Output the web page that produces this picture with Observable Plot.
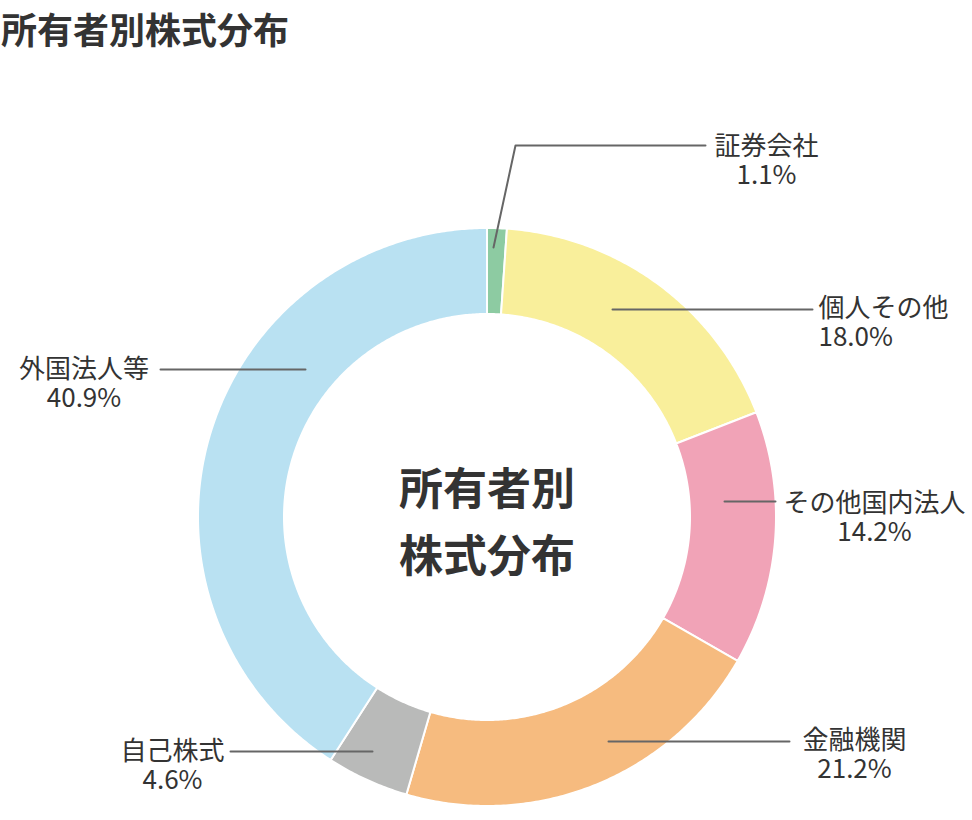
<!DOCTYPE html>
<html>
<head>
<meta charset="utf-8">
<script src="https://cdn.jsdelivr.net/npm/d3@7"></script>
<script src="https://cdn.jsdelivr.net/npm/@observablehq/plot@0.6"></script>
<style>
  body { margin: 0; background: #fff; font-family: "Noto Sans CJK JP", "Noto Sans", sans-serif; }
  #title { font-weight: 700; font-size: 36px; line-height: 1; height: 60px; box-sizing: border-box; padding: 10px 0 0 1px; color: #333; }
  #chart svg { display: block; }
</style>
</head>
<body>
<div id="title"></div>
<div id="chart"></div>
<script>
// ---- data ----
const chartTitle = "所有者別株式分布";
const centerLines = ["所有者別", "株式分布"];
const categories = ["証券会社", "個人その他", "その他国内法人", "金融機関", "自己株式", "外国法人等"];
const shares = [1.1, 18.0, 14.2, 21.2, 4.6, 40.9];
const sliceColors = ["#8dcba2", "#f9ef9b", "#f1a3b7", "#f6bb7f", "#b9bab9", "#b9e1f2"];

// ---- layout (center-relative coordinates, y up) ----
const outerR = 289, innerR = 203;
const leaderPaths = [
  [[6.5, 269.5], [28.5, 371.5], [218.5, 371.5]],
  [[125.5, 207.5], [325.5, 207.5]],
  [[237.5, 15.5], [288.5, 15.5]],
  [[121.5, -224.5], [302.5, -224.5]],
  [[-114.5, -234.5], [-256.5, -234.5]],
  [[-181.5, 147.5], [-326.5, 147.5]]
];
const labelAnchors = [
  {x: 279.5, y: 371, anchor: "middle"},
  {x: 331.5, y: 209, anchor: "start"},
  {x: 387.5, y: 14.5, anchor: "middle"},
  {x: 367.5, y: -223, anchor: "middle"},
  {x: -314.5, y: -234, anchor: "middle"},
  {x: -403, y: 148.5, anchor: "middle"}
];
const labelFontSize = 26, labelLineGap = 29;

document.getElementById("title").textContent = chartTitle;

const arcs = d3.pie().sort(null).value(d => d)(shares);

const marks = [];
arcs.forEach((a, i) => {
  const pts = [];
  const n = Math.max(3, Math.ceil((a.endAngle - a.startAngle) / (Math.PI / 360)));
  for (let k = 0; k <= n; k++) {
    const t = a.startAngle + (a.endAngle - a.startAngle) * k / n;
    pts.push({x: outerR * Math.sin(t), y: outerR * Math.cos(t)});
  }
  for (let k = n; k >= 0; k--) {
    const t = a.startAngle + (a.endAngle - a.startAngle) * k / n;
    pts.push({x: innerR * Math.sin(t), y: innerR * Math.cos(t)});
  }
  pts.push(pts[0]);
  marks.push(Plot.line(pts, {x: "x", y: "y", fill: sliceColors[i], stroke: "#fff", strokeWidth: 2, curve: "linear"}));
});

const leaderRows = [];
leaderPaths.forEach((path, i) => path.forEach(([x, y]) => leaderRows.push({cat: categories[i], x, y})));
marks.push(Plot.line(leaderRows, {x: "x", y: "y", z: "cat", stroke: "#666", strokeWidth: 2}));

const labelRows = categories.map((c, i) => ({
  text: c + "\n" + shares[i].toFixed(1) + "%",
  x: labelAnchors[i].x, y: labelAnchors[i].y, anchor: labelAnchors[i].anchor
}));
for (const anchor of ["middle", "start"]) {
  const rows = labelRows.filter(d => d.anchor === anchor);
  marks.push(Plot.text(rows, {
    x: "x", y: "y", text: "text", textAnchor: anchor, lineAnchor: "middle",
    lineHeight: labelLineGap / labelFontSize, dy: labelLineGap / 2,
    fontSize: labelFontSize, fill: "#333", fontFamily: "Noto Sans CJK JP"
  }));
}

marks.push(Plot.text([centerLines.join("\n")], {
  x: () => 0, y: () => 0, text: d => d, fontSize: 44, fontWeight: 700, lineHeight: 1.52,
  fill: "#333", fontFamily: "Noto Sans CJK JP"
}));

const chart = Plot.plot({
  width: 972,
  height: 760,
  margin: 0,
  x: {domain: [-486.5, 485.5], range: [0, 972], axis: null},
  y: {domain: [456.5, -303.5], range: [0, 760], axis: null},
  style: {fontFamily: "Noto Sans CJK JP", background: "#fff"},
  marks
});
document.getElementById("chart").appendChild(chart);
</script>
</body>
</html>
